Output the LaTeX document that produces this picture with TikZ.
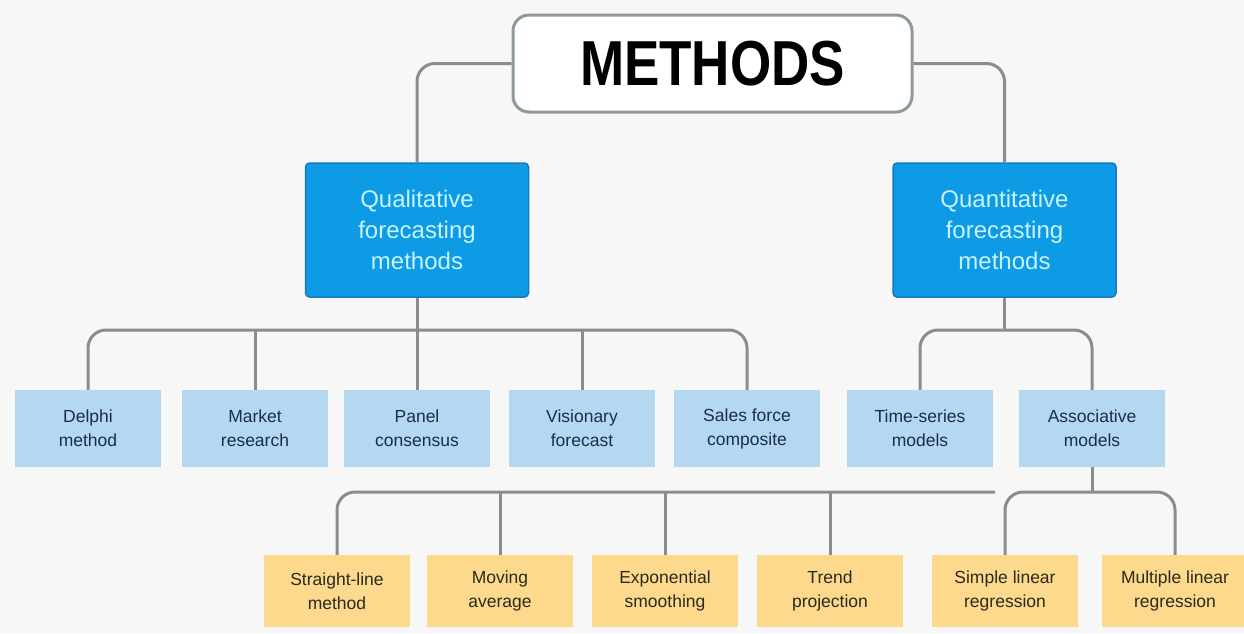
\documentclass[tikz,border=0pt]{standalone}
\usepackage{fontspec}
\setmainfont{Liberation Sans}
\definecolor{bg}{HTML}{F7F7F7}
\definecolor{lineg}{HTML}{8C8C8C}
\definecolor{mbox}{HTML}{8E9A94}
\definecolor{bblue}{HTML}{0E9BE5}
\definecolor{bblueb}{HTML}{1A78C0}
\definecolor{btext}{HTML}{C8F2FF}
\definecolor{lblue}{HTML}{B5D8F1}
\definecolor{navy}{HTML}{1B2B4E}
\definecolor{ybox}{HTML}{FCD98C}
\definecolor{ytext}{HTML}{2B2A1E}
\begin{document}
\begin{tikzpicture}[x=1pt,y=-1pt,
  conn/.style={draw=lineg, line width=3pt, rounded corners=18pt},
  mainbox/.style={draw=mbox, line width=3pt, rounded corners=16pt, fill=white, minimum width=399pt, minimum height=97pt, inner sep=0pt},
  catbox/.style={fill=bblue, draw=bblueb, line width=1.5pt, rounded corners=4pt, minimum width=223pt, minimum height=134pt, inner sep=0pt, align=center, text=btext, font=\fontsize{24}{31}\selectfont},
  subbox/.style={fill=lblue, minimum width=146pt, minimum height=77pt, inner sep=0pt, align=center, text=navy, font=\fontsize{17.5}{24}\selectfont},
  leafbox/.style={fill=ybox, minimum width=146pt, minimum height=72pt, inner sep=0pt, align=center, text=ytext, font=\fontsize{17.5}{24}\selectfont}]
\fill[bg] (0,0) rectangle (1244,633);
\useasboundingbox (0,0) rectangle (1244,633);

% nodes
\node[mainbox] (methods) at (712.5,63.5) {\scalebox{1}[1.2]{\fontsize{53}{60}\selectfont\bfseries METHODS}};
\node[catbox] (qual) at (417,230) {Qualitative\\forecasting\\methods};
\node[catbox] (quant) at (1004.5,230) {Quantitative\\forecasting\\methods};

\node[subbox] (delphi) at (88,428.5) {Delphi\\method};
\node[subbox] (market) at (255,428.5) {Market\\research};
\node[subbox] (panel) at (417,428.5) {Panel\\consensus};
\node[subbox] (vision) at (582,428.5) {Visionary\\forecast};
\node[subbox] (sales) at (747,428.5) {Sales force\\composite};
\node[subbox] (ts) at (920,428.5) {Time-series\\models};
\node[subbox] (assoc) at (1092,428.5) {Associative\\models};

\node[leafbox] (sl) at (337,591) {Straight-line\\method};
\node[leafbox] (ma) at (500,591) {Moving\\average};
\node[leafbox] (es) at (665,591) {Exponential\\smoothing};
\node[leafbox] (tp) at (830,591) {Trend\\projection};
\node[leafbox] (slr) at (1005,591) {Simple linear\\regression};
\node[leafbox] (mlr) at (1175,591) {Multiple linear\\regression};

% bar coordinates
\coordinate (b1) at (417,330);
\coordinate (b2) at (1004.5,330);
\coordinate (b3) at (995,492);
\coordinate (b4) at (1092,492);

% connectors
\draw[conn] (methods.west) -| (qual.north);
\draw[conn] (methods.east) -| (quant.north);

\draw[conn] (delphi.north) |- (b1) -| (sales.north);
\draw[conn] (qual.south) -- (panel.north);
\draw[conn] (market.north) -- (market.north |- b1);
\draw[conn] (vision.north) -- (vision.north |- b1);

\draw[conn] (quant.south) -- (b2);
\draw[conn] (ts.north) |- (b2) -| (assoc.north);

\draw[conn] (sl.north) |- (b3);
\draw[conn] (ma.north) -- (ma.north |- b3);
\draw[conn] (es.north) -- (es.north |- b3);
\draw[conn] (tp.north) -- (tp.north |- b3);

\draw[conn] (assoc.south) -- (b4);
\draw[conn] (slr.north) |- (b4) -| (mlr.north);
\end{tikzpicture}
\end{document}
